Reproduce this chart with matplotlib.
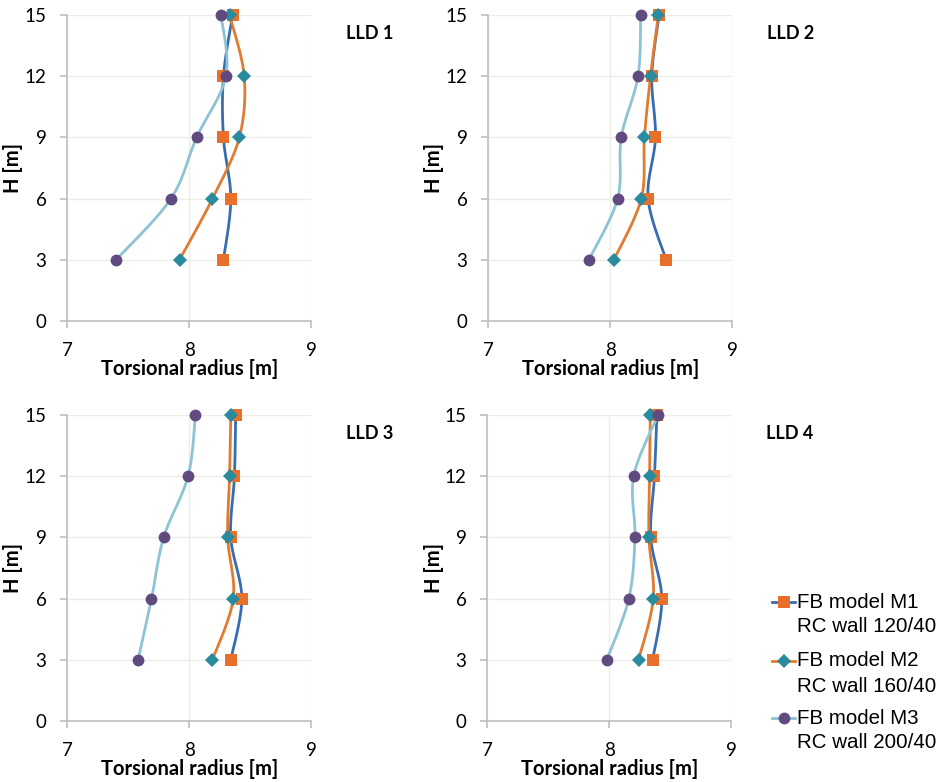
import numpy as np
import matplotlib
matplotlib.use("Agg")
import matplotlib.pyplot as plt

# ---------------- data ----------------
heights = [3, 6, 9, 12, 15]
panel_titles = ["LLD 1", "LLD 2", "LLD 3", "LLD 4"]

lld1_m1 = [8.28, 8.34, 8.28, 8.28, 8.355]
lld1_m2 = [7.92, 8.19, 8.41, 8.45, 8.33]
lld1_m3 = [7.40, 7.85, 8.06, 8.30, 8.26]

lld2_m1 = [8.457, 8.31, 8.37, 8.34, 8.40]
lld2_m2 = [8.03, 8.254, 8.28, 8.33, 8.394]
lld2_m3 = [7.825, 8.06, 8.09, 8.227, 8.249]

lld3_m1 = [8.34, 8.43, 8.34, 8.37, 8.38]
lld3_m2 = [8.19, 8.36, 8.315, 8.33, 8.34]
lld3_m3 = [7.58, 7.69, 7.79, 7.99, 8.05]

lld4_m1 = [8.355, 8.43, 8.34, 8.37, 8.39]
lld4_m2 = [8.24, 8.36, 8.325, 8.33, 8.336]
lld4_m3 = [7.98, 8.16, 8.21, 8.20, 8.40]

series_labels = [("FB model M1", "RC wall 120/40"),
                 ("FB model M2", "RC wall 160/40"),
                 ("FB model M3", "RC wall 200/40")]

x_ticks = [7, 8, 9]
y_ticks = [0, 3, 6, 9, 12, 15]
x_label = "Torsional radius [m]"
y_label = "H [m]"

panels = [(lld1_m1, lld1_m2, lld1_m3),
          (lld2_m1, lld2_m2, lld2_m3),
          (lld3_m1, lld3_m2, lld3_m3),
          (lld4_m1, lld4_m2, lld4_m3)]

# ---------------- styles ----------------
line_colors = ["#3A6DB0", "#E07B30", "#8CC3D5"]
marker_colors = ["#E8702A", "#2A8A9E", "#604A80"]
markers = ["s", "D", "o"]
marker_sizes = [8.5, 7, 8.5]

W, H = 942, 782
fig = plt.figure(figsize=(W / 100, H / 100), dpi=100)
fig.patch.set_facecolor("white")

tick_font = "Lato"
axis_gray = "#BFBFBF"
grid_gray = "#EDEDE8"

# axes rectangles in pixels (left, top, right, bottom)
rects = [(67.3, 15, 311.3, 321), (488.3, 15, 732.3, 321),
         (67.3, 415, 311.3, 721), (487.3, 415, 731.3, 721)]


def smooth(ax, xs, ys, n=30):
    pts = ax.transData.transform(np.column_stack([xs, ys]))
    P = np.vstack([pts[0], pts, pts[-1]])
    out = []
    t = np.linspace(0, 1, n)[:, None]
    for i in range(1, len(P) - 2):
        p0, p1, p2, p3 = P[i - 1], P[i], P[i + 1], P[i + 2]
        b1 = p1 + (p2 - p0) / 6.0
        b2 = p2 - (p3 - p1) / 6.0
        seg = ((1 - t) ** 3) * p1 + 3 * ((1 - t) ** 2) * t * b1 + 3 * (1 - t) * t ** 2 * b2 + t ** 3 * p2
        out.append(seg if i == 1 else seg[1:])
    out = np.vstack(out)
    d = ax.transData.inverted().transform(out)
    return d[:, 0], d[:, 1]


for k, (rect, data, title) in enumerate(zip(rects, panels, panel_titles)):
    l, t, r, b = rect
    ah = b - t
    aw = r - l
    ax = fig.add_axes([l / W, (H - b) / H, aw / W, ah / H])
    ax.set_xlim(7, 9)
    ax.set_ylim(0, 15)
    ax.set_xticks(x_ticks)
    ax.set_yticks(y_ticks)
    for s in ["top", "right"]:
        ax.spines[s].set_visible(False)
    for s in ["left", "bottom"]:
        ax.spines[s].set_color(axis_gray)
        ax.spines[s].set_linewidth(1.2)
    ax.grid(True, color=grid_gray, linewidth=1.0)
    ax.set_axisbelow(True)
    ax.tick_params(axis="both", colors=axis_gray, length=5, width=1.2,
                   labelcolor="black", labelsize=13.5)
    ax.tick_params(axis="x", pad=10)
    ax.tick_params(axis="y", pad=10)
    for lab in ax.get_xticklabels() + ax.get_yticklabels():
        lab.set_fontfamily(tick_font)
    ax.set_xlabel(x_label, fontsize=14.5, fontweight="bold", fontfamily=tick_font)
    ax.set_ylabel(y_label, fontsize=14.5, fontweight="bold", fontfamily=tick_font)
    # place axis labels at the measured offsets (axes fraction)
    ax.xaxis.set_label_coords(0.5, -48.0 / ah)
    ax.xaxis.label.set_va("center")
    ylab_px = 13 if k % 2 == 0 else 434
    ax.yaxis.set_label_coords((ylab_px - l) / aw, 0.5)
    ax.yaxis.label.set_va("center")
    ax.text(1.142, 0.938, title, transform=ax.transAxes, ha="left", va="center",
            fontsize=13, fontweight="bold", fontfamily=tick_font, clip_on=False)

    # lines first
    for j, vals in enumerate(data):
        sx, sy = smooth(ax, vals, heights)
        ax.plot(sx, sy, color=line_colors[j], linewidth=2.0, zorder=2,
                solid_capstyle="round", clip_on=False)
    for j, vals in enumerate(data):
        ax.plot(vals, heights, linestyle="none", marker=markers[j],
                markersize=marker_sizes[j], color=marker_colors[j],
                markeredgewidth=0, zorder=3 + j, clip_on=False)

# ---------------- legend (manual, handle aligned to first line) ----------------
lax = fig.add_axes([0, 0, 1, 1], facecolor="none")
lax.set_xlim(0, W)
lax.set_ylim(H, 0)
lax.axis("off")
entry_y = [602, 661, 718]
for j, ((l1, l2), y0) in enumerate(zip(series_labels, entry_y)):
    lax.plot([772, 795], [y0, y0], color=line_colors[j], linewidth=2.0)
    lax.plot([783.5], [y0], marker=markers[j], markersize=marker_sizes[j],
             color=marker_colors[j], markeredgewidth=0, linestyle="none")
    lax.text(797, y0, l1, ha="left", va="center", fontsize=14.8,
             fontfamily="Liberation Sans")
    lax.text(797, y0 + 25, l2, ha="left", va="center", fontsize=14.8,
             fontfamily="Liberation Sans")

fig.savefig("out.png", dpi=100, facecolor="white")
